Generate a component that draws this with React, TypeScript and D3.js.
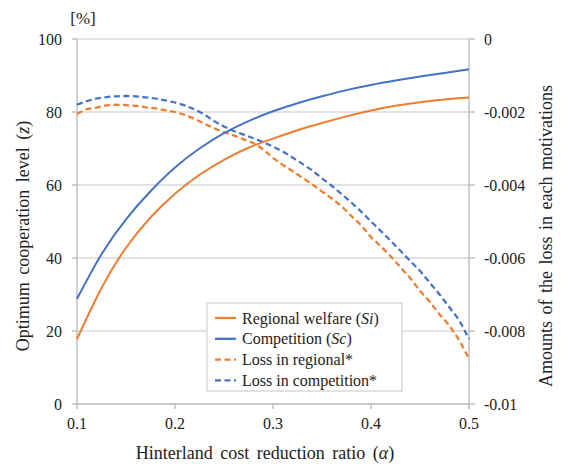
import React from "react";
import * as d3 from "d3";

const alphaSolid = [0.1, 0.125, 0.15, 0.175, 0.2, 0.225, 0.25, 0.275, 0.3, 0.325, 0.35, 0.375, 0.4, 0.425, 0.45, 0.475, 0.5];
const regionalWelfare = [17.8, 31.8, 42.8, 51.1, 57.6, 62.8, 66.9, 70.2, 72.7, 75.0, 77.0, 78.8, 80.4, 81.7, 82.7, 83.45, 84.0];
const competition = [28.8, 41.0, 50.6, 58.3, 64.8, 70.0, 74.2, 77.5, 80.2, 82.4, 84.3, 86.0, 87.4, 88.6, 89.7, 90.7, 91.7];

const alphaLoss = [0.1, 0.11, 0.12, 0.13, 0.14, 0.15, 0.16, 0.17, 0.18, 0.19, 0.2, 0.21, 0.22, 0.23, 0.24, 0.25, 0.26, 0.27, 0.28, 0.29, 0.3, 0.31, 0.32, 0.33, 0.34, 0.35, 0.36, 0.37, 0.38, 0.39, 0.4, 0.41, 0.42, 0.43, 0.44, 0.45, 0.46, 0.47, 0.48, 0.49, 0.5];
const lossRegional = [-0.00205, -0.00192, -0.00188, -0.00182, -0.0018, -0.00181, -0.00183, -0.00187, -0.0019, -0.00195, -0.002, -0.00208, -0.00219, -0.00232, -0.00245, -0.00255, -0.00264, -0.00275, -0.00285, -0.00302, -0.00326, -0.00345, -0.00362, -0.0038, -0.00398, -0.00418, -0.00437, -0.00458, -0.00485, -0.0051, -0.00543, -0.00568, -0.00595, -0.00625, -0.00655, -0.0069, -0.0072, -0.00755, -0.00785, -0.00825, -0.00876];
const lossCompetition = [-0.0018, -0.0017, -0.00163, -0.00159, -0.00157, -0.00156, -0.00157, -0.0016, -0.00163, -0.00168, -0.00174, -0.00182, -0.00193, -0.00207, -0.00225, -0.0024, -0.00252, -0.00262, -0.00272, -0.00282, -0.00295, -0.00308, -0.00325, -0.00342, -0.0036, -0.00382, -0.00402, -0.00425, -0.00448, -0.00473, -0.005, -0.00526, -0.00553, -0.0058, -0.00608, -0.00635, -0.00668, -0.007, -0.00735, -0.0077, -0.00822];

const xTicks = [0.1, 0.2, 0.3, 0.4, 0.5];
const leftTicks = [0, 20, 40, 60, 80, 100];
const rightTicks = [0, -0.002, -0.004, -0.006, -0.008, -0.01];

const ORANGE = "#ED7D31";
const BLUE = "#4472C4";
const FONT = '"Liberation Serif", "DejaVu Serif", "Times New Roman", Times, serif';
const DASH = "6,3.5";

export default function App() {
  const W = 568, H = 468;
  const left = 77, right = 469, top = 39, bottom = 404;
  const x = d3.scaleLinear().domain([0.1, 0.5]).range([left, right]);
  const yL = d3.scaleLinear().domain([0, 100]).range([bottom, top]);
  const yR = d3.scaleLinear().domain([-0.01, 0]).range([bottom, top]);

  const solidLine = (vals: number[]) =>
    d3.line<number>().x((_, i) => x(alphaSolid[i])).y((d) => yL(d)).curve(d3.curveNatural)(vals) || "";
  const lossLine = (vals: number[]) =>
    d3.line<number>().x((_, i) => x(alphaLoss[i])).y((d) => yR(d)).curve(d3.curveLinear)(vals) || "";

  const legendItems = [
    { color: ORANGE, dash: null, label: ["Regional welfare (", "Si", ")"] },
    { color: BLUE, dash: null, label: ["Competition (", "Sc", ")"] },
    { color: ORANGE, dash: DASH, label: ["Loss in regional*", "", ""] },
    { color: BLUE, dash: DASH, label: ["Loss in competition*", "", ""] },
  ];

  const txt = { fontFamily: FONT, fill: "#222" } as React.CSSProperties;

  return (
    <svg width={W} height={H} style={{ position: "absolute", left: 0, top: 0, background: "#fff", fontFamily: FONT }}>
      <rect x={0} y={0} width={W} height={H} fill="#fff" />
      {leftTicks.map((t) => (
        <line key={"g" + t} x1={left} x2={right} y1={yL(t)} y2={yL(t)} stroke="#d9d9d9" strokeWidth={1.5} />
      ))}
      <line x1={left} x2={left} y1={top} y2={bottom} stroke="#bfbfbf" strokeWidth={1.5} />
      <line x1={right} x2={right} y1={top} y2={bottom + 5} stroke="#bfbfbf" strokeWidth={1.5} />
      <line x1={left} x2={right} y1={bottom} y2={bottom} stroke="#bfbfbf" strokeWidth={1.5} />
      {leftTicks.map((t) => (
        <line key={"lt" + t} x1={left - 5} x2={left} y1={yL(t)} y2={yL(t)} stroke="#bfbfbf" strokeWidth={1.5} />
      ))}
      {rightTicks.map((t) => (
        <line key={"rt" + t} x1={right} x2={right + 6} y1={yR(t)} y2={yR(t)} stroke="#bfbfbf" strokeWidth={1.5} />
      ))}
      {xTicks.map((t) => (
        <line key={"xt" + t} x1={x(t)} x2={x(t)} y1={bottom} y2={bottom + 5} stroke="#bfbfbf" strokeWidth={1.5} />
      ))}
      {leftTicks.map((t) => (
        <text key={"ll" + t} x={62} y={yL(t)} dy="0.35em" textAnchor="end" fontSize={16} style={txt}>{t}</text>
      ))}
      {rightTicks.map((t) => (
        <text key={"rl" + t} x={484} y={yR(t)} dy="0.35em" textAnchor="start" fontSize={16} style={txt}>{t === 0 ? "0" : String(t)}</text>
      ))}
      {xTicks.map((t) => (
        <text key={"xl" + t} x={x(t)} y={429} textAnchor="middle" fontSize={16} style={txt}>{t.toFixed(1)}</text>
      ))}
      <path d={lossLine(lossRegional)} fill="none" stroke={ORANGE} strokeWidth={2.25} strokeDasharray={DASH} />
      <path d={lossLine(lossCompetition)} fill="none" stroke={BLUE} strokeWidth={2.25} strokeDasharray={DASH} />
      <path d={solidLine(regionalWelfare)} fill="none" stroke={ORANGE} strokeWidth={2} />
      <path d={solidLine(competition)} fill="none" stroke={BLUE} strokeWidth={2} />
      <rect x={207} y={303} width={195} height={88} fill="#fff" stroke="#d9d9d9" strokeWidth={1.5} />
      {legendItems.map((it, i) => {
        const yy = 318 + i * 20.8;
        return (
          <g key={"lg" + i}>
            <line x1={215} x2={236} y1={yy} y2={yy} stroke={it.color} strokeWidth={2.25} strokeDasharray={it.dash || undefined} />
            <text x={242} y={yy} dy="0.35em" fontSize={16} style={txt}>
              {it.label[0]}
              {it.label[1] && <tspan fontStyle="italic">{it.label[1]}</tspan>}
              {it.label[2]}
            </text>
          </g>
        );
      })}
      <text x={83} y={24} textAnchor="middle" fontSize={17} style={txt}>[%]</text>
      <text x={265} y={459} textAnchor="middle" fontSize={18} style={txt} wordSpacing={3}>
        Hinterland cost reduction ratio (<tspan fontStyle="italic">α</tspan>)
      </text>
      <text transform={`translate(29, 236) rotate(-90)`} textAnchor="middle" fontSize={18} style={txt} wordSpacing={3}>
        Optimum cooperation level (<tspan fontStyle="italic">z</tspan>)
      </text>
      <text transform={`translate(552, 236) rotate(-90)`} textAnchor="middle" fontSize={18} style={txt} wordSpacing={2}>
        Amounts of the loss in each motivations
      </text>
    </svg>
  );
}
